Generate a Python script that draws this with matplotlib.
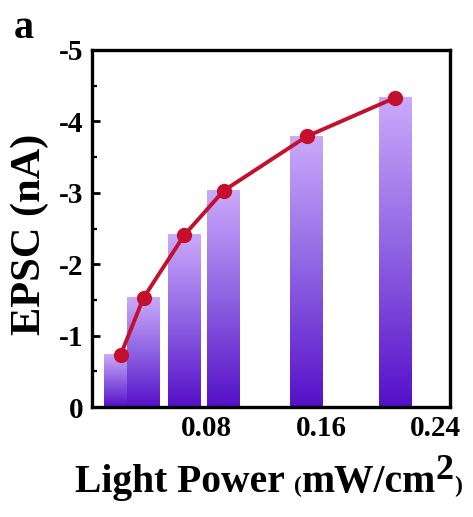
import numpy as np
import matplotlib
matplotlib.use("Agg")
import matplotlib.pyplot as plt
from matplotlib.colors import LinearSegmentedColormap
from matplotlib.ticker import MultipleLocator

# ---- data ----
light_power = [0.020, 0.036, 0.0645, 0.092, 0.150, 0.2115]   # mW/cm2
epsc = [-0.73, -1.53, -2.41, -3.03, -3.79, -4.33]              # nA
x_ticks = [0.08, 0.16, 0.24]
x_tick_labels = ["0.08", "0.16", "0.24"]
y_ticks = [0, -1, -2, -3, -4, -5]
y_tick_labels = ["0", "-1", "-2", "-3", "-4", "-5"]

bar_width = 0.0228
serif = ["Liberation Serif", "DejaVu Serif"]
plt.rcParams["font.family"] = serif
plt.rcParams["font.weight"] = "bold"

fig = plt.figure(figsize=(4.73, 5.17), dpi=100)
ax = fig.add_axes([92/473, 1-407/517, (450-92)/473, (407-50)/517])

cmap = LinearSegmentedColormap.from_list("purp", ["#5510c8", "#8e62e2", "#caaafb"])
grad = np.linspace(0, 1, 256).reshape(-1, 1)

bars = ax.bar(light_power, epsc, width=bar_width, color="none", edgecolor="none")
for i, b in enumerate(bars):
    x0 = b.get_x()
    ax.imshow(grad, cmap=cmap, origin="lower", aspect="auto",
              extent=(x0, x0 + b.get_width(), 0, b.get_height()),
              zorder=1 + i * 0.01, interpolation="bilinear")

ax.plot(light_power, epsc, color="#c4102c", lw=2.8, marker="o", ms=10,
        mfc="#c4102c", mec="#c4102c", zorder=5)

ax.set_xlim(0, 0.25)
ax.set_ylim(0, -5)
ax.set_xticks(x_ticks)
ax.set_xticklabels(x_tick_labels)
ax.set_yticks(y_ticks)
ax.set_yticklabels(y_tick_labels)
ax.yaxis.set_minor_locator(MultipleLocator(0.5))
ax.tick_params(axis="x", length=0, pad=6, labelsize=21)
ax.tick_params(axis="y", which="major", direction="in", length=6, width=2, pad=6, labelsize=21)
ax.tick_params(axis="y", which="minor", direction="in", length=3.5, width=1.6)
for lab in ax.get_xticklabels() + ax.get_yticklabels():
    lab.set_fontweight("bold")
for s in ax.spines.values():
    s.set_linewidth(2.4)

# y label
fig.text(30/473, 1-234/517, "EPSC (nA)", rotation=90, ha="center", va="center",
         fontsize=30.5, fontweight="bold")

# panel letter
fig.text(14/473, 1-38/517, "a", fontsize=29, fontweight="bold", ha="left", va="baseline")

# x label built from pieces
fig.canvas.draw()
r = fig.canvas.get_renderer()
base_y = 1 - 492/517
xpos = 75/473
pieces = [("Light Power ", 28.5, 0), ("(", 17, 0), ("mW/cm", 28.5, 0), ("2", 26, 13), (")", 17, 0)]
for txt, fs, rise in pieces:
    t = fig.text(xpos, base_y + rise/517, txt, fontsize=fs, fontweight="bold",
                 ha="left", va="baseline")
    bb = t.get_window_extent(renderer=r)
    xpos = bb.x1 / fig.bbox.width

fig.savefig("out.png", dpi=100)
